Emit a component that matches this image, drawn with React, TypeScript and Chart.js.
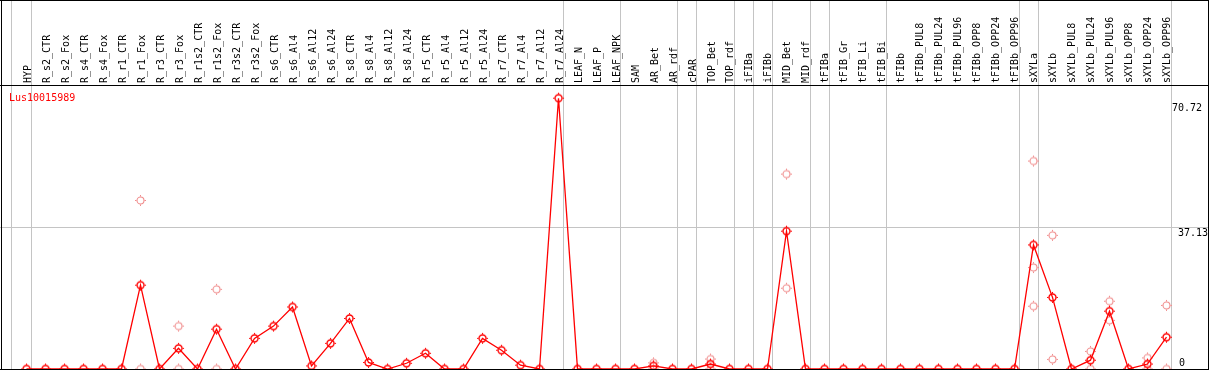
import React, { useEffect, useRef } from "react";
import { Chart, registerables } from "chart.js";

Chart.register(...registerables);

const seriesTitle = "Lus10015989";

const categories = [
  "HYP",
  "R_s2_CTR", "R_s2_Fox", "R_s4_CTR", "R_s4_Fox", "R_r1_CTR", "R_r1_Fox", "R_r3_CTR", "R_r3_Fox",
  "R_r1s2_CTR", "R_r1s2_Fox", "R_r3s2_CTR", "R_r3s2_Fox",
  "R_s6_CTR", "R_s6_Al4", "R_s6_Al12", "R_s6_Al24", "R_s8_CTR", "R_s8_Al4", "R_s8_Al12", "R_s8_Al24",
  "R_r5_CTR", "R_r5_Al4", "R_r5_Al12", "R_r5_Al24", "R_r7_CTR", "R_r7_Al4", "R_r7_Al12", "R_r7_Al24",
  "LEAF_N", "LEAF_P", "LEAF_NPK",
  "SAM", "AR_Bet", "AR_rdf",
  "cPAR",
  "TOP_Bet", "TOP_rdf",
  "iFIBa",
  "iFIBb",
  "MID_Bet", "MID_rdf",
  "tFIBa",
  "tFIB_Gr", "tFIB_Li", "tFIB_Bi",
  "tFIBb", "tFIBb_PUL8", "tFIBb_PUL24", "tFIBb_PUL96", "tFIBb_OPP8", "tFIBb_OPP24", "tFIBb_OPP96",
  "sXYLa",
  "sXYLb", "sXYLb_PUL8", "sXYLb_PUL24", "sXYLb_PUL96", "sXYLb_OPP8", "sXYLb_OPP24", "sXYLb_OPP96",
];

// mean expression per sample
const meanValues = [
  0, 0, 0, 0, 0, 0, 21.9, 0, 5.4, 0, 10.4, 0, 8.0, 11.2, 16.2,
  0.8, 6.7, 13.2, 1.7, 0, 1.5, 4.1, 0, 0, 8.0, 4.9, 1.0, 0, 70.72, 0, 0,
  0, 0, 0.8, 0, 0, 1.3, 0, 0, 0, 36.0, 0, 0, 0, 0, 0, 0, 0, 0, 0, 0, 0, 0,
  32.4, 18.7, 0, 2.3, 15.1, 0, 1.3, 8.3,
];

// individual replicates (only where they differ visibly from the mean)
const N = null;
const replicateA = [
  N, N, N, N, N, N, 44.0, N, 11.2, N, 20.8, N, N, N, N,
  N, N, N, N, N, N, N, N, N, N, N, N, N, N, N, N,
  N, N, 1.6, N, N, 2.6, N, N, N, 50.9, N, N, N, N, N, N, N, N, N, N, N, N,
  54.3, 34.9, N, 4.6, 17.7, N, 2.9, 16.6,
];
const replicateB = [
  N, N, N, N, N, N, 0, N, 0, N, 0, N, N, N, N,
  N, N, N, N, N, N, N, N, N, N, N, N, N, N, N, N,
  N, N, 0, N, N, 0, N, N, N, 21.1, N, N, N, N, N, N, N, N, N, N, N, N,
  26.5, 2.5, N, 0, 12.7, N, 0, 0,
];
const replicateC = [
  N, N, N, N, N, N, N, N, N, N, N, N, N, N, N,
  N, N, N, N, N, N, N, N, N, N, N, N, N, N, N, N,
  N, N, N, N, N, N, N, N, N, N, N, N, N, N, N, N, N, N, N, N, N, N,
  16.4, N, N, N, N, N, N, N,
];

// group separators, in category-index units
const groupSeparators = [-0.79, 0.22, 28.22, 31.22, 34.22, 35.22, 37.22, 38.22, 39.22, 41.22, 42.22, 45.22, 52.22, 53.22, 60.22];
const yGridValues = [37.13];
const yTickValues = [70.72, 37.13, 0];
const yTickLabels = ["70.72", "37.13", "0"];

const X_MIN = -1.2895;
const X_MAX = 62.1316;
const Y_MAX = 73.9;

function makeMarker(color: string, lw: number) {
  const c = document.createElement("canvas");
  c.width = 13;
  c.height = 13;
  const g = c.getContext("2d")!;
  g.strokeStyle = color;
  g.lineWidth = lw;
  g.beginPath();
  g.arc(6.5, 6.5, 3.5, 0, Math.PI * 2);
  g.stroke();
  g.fillStyle = color;
  g.fillRect(6, 1, 1, 1.5);
  g.fillRect(6, 10.5, 1, 1.5);
  g.fillRect(1, 6, 1.5, 1);
  g.fillRect(10.5, 6, 1.5, 1);
  return c;
}

export default function App() {
  const ref = useRef<HTMLCanvasElement | null>(null);

  useEffect(() => {
    const canvas = ref.current;
    if (!canvas) return;
    const meanMarker = makeMarker("#ff0000", 1.4);
    const repMarker = makeMarker("#f08c8c", 1.1);

    const repPoints: { x: number; y: number }[] = [];
    [replicateA, replicateB, replicateC].forEach((arr) => {
      arr.forEach((v, i) => {
        if (v !== null && v !== undefined) repPoints.push({ x: i, y: v as number });
      });
    });

    const decor = {
      id: "decor",
      beforeDraw(chart: any) {
        const ctx = chart.ctx;
        ctx.save();
        ctx.fillStyle = "#ffffff";
        ctx.fillRect(0, 0, chart.width, chart.height);
        ctx.restore();
      },
      beforeDatasetsDraw(chart: any) {
        const ctx = chart.ctx;
        const xs = chart.scales.x;
        const ys = chart.scales.y;
        ctx.save();
        ctx.fillStyle = "#c4c4c4";
        groupSeparators.forEach((g) => {
          const px = Math.round(xs.getPixelForValue(g));
          ctx.fillRect(px, 0, 1, 370);
        });
        yGridValues.forEach((v) => {
          const py = Math.round(ys.getPixelForValue(v));
          ctx.fillRect(0, py, chart.width, 1);
        });
        ctx.restore();
      },
      afterDatasetsDraw(chart: any) {
        const ctx = chart.ctx;
        const xs = chart.scales.x;
        const ys = chart.scales.y;
        const W = chart.width;
        const H = chart.height;
        ctx.save();
        // frame
        ctx.fillStyle = "#000000";
        ctx.fillRect(0, 0, W, 1);
        ctx.fillRect(0, 85, W, 1);
        ctx.fillRect(0, H - 1, W, 1);
        ctx.fillRect(1, 0, 1, H);
        ctx.fillRect(W - 1, 0, 1, H);

        // category labels (rotated)
        ctx.font = "10px 'DejaVu Sans Mono'";
        ctx.fillStyle = "#000000";
        ctx.textAlign = "left";
        ctx.textBaseline = "alphabetic";
        categories.forEach((lab, i) => {
          const px = xs.getPixelForValue(i);
          ctx.save();
          ctx.translate(px + 4, 83);
          ctx.rotate(-Math.PI / 2);
          ctx.fillText(lab, 0, 0);
          ctx.restore();
        });

        // title
        ctx.fillStyle = "#ff0000";
        ctx.font = "10px 'DejaVu Sans Mono'";
        ctx.fillText(seriesTitle, 9, 101);

        // y labels
        ctx.fillStyle = "#000000";
        const xOff = [1172, 1178, 1179];
        const yOff = [13, 9, -3];
        yTickValues.forEach((v, k) => {
          const py = ys.getPixelForValue(v);
          ctx.fillText(yTickLabels[k], xOff[k], py + yOff[k]);
        });
        ctx.restore();
      },
    };

    const pointOpts = {
      pointRadius: 1,
      pointHoverRadius: 0,
      pointBorderWidth: 0,
      pointHitRadius: 0,
    };

    const chart = new Chart(canvas, {
      type: "line",
      data: {
        datasets: [
          {
            label: seriesTitle,
            data: meanValues.map((v, i) => ({ x: i, y: v })),
            borderColor: "#ff0000",
            backgroundColor: "#ff0000",
            borderWidth: 1.3,
            pointStyle: meanMarker as any,
            ...pointOpts,
            tension: 0,
            fill: false,
            clip: false as any,
          },
          {
            label: "replicates",
            data: repPoints,
            showLine: false,
            borderWidth: 0,
            borderColor: "#f08c8c",
            backgroundColor: "#f08c8c",
            pointStyle: repMarker as any,
            ...pointOpts,
            clip: false as any,
          },
        ],
      },
      options: {
        responsive: false,
        animation: false,
        devicePixelRatio: 1,
        layout: { padding: { left: 2, right: 2, top: 86, bottom: 1 } },
        plugins: { legend: { display: false }, tooltip: { enabled: false } },
        events: [],
        scales: {
          x: { type: "linear", min: X_MIN, max: X_MAX, display: false },
          y: { type: "linear", min: 0, max: Y_MAX, display: false },
        },
      },
      plugins: [decor],
    });
    return () => chart.destroy();
  }, []);

  return (
    <div style={{ position: "fixed", left: 0, top: 0, width: 1209, height: 370, background: "#fff" }}>
      <canvas ref={ref} width={1209} height={370} style={{ display: "block", width: 1209, height: 370 }} />
    </div>
  );
}
